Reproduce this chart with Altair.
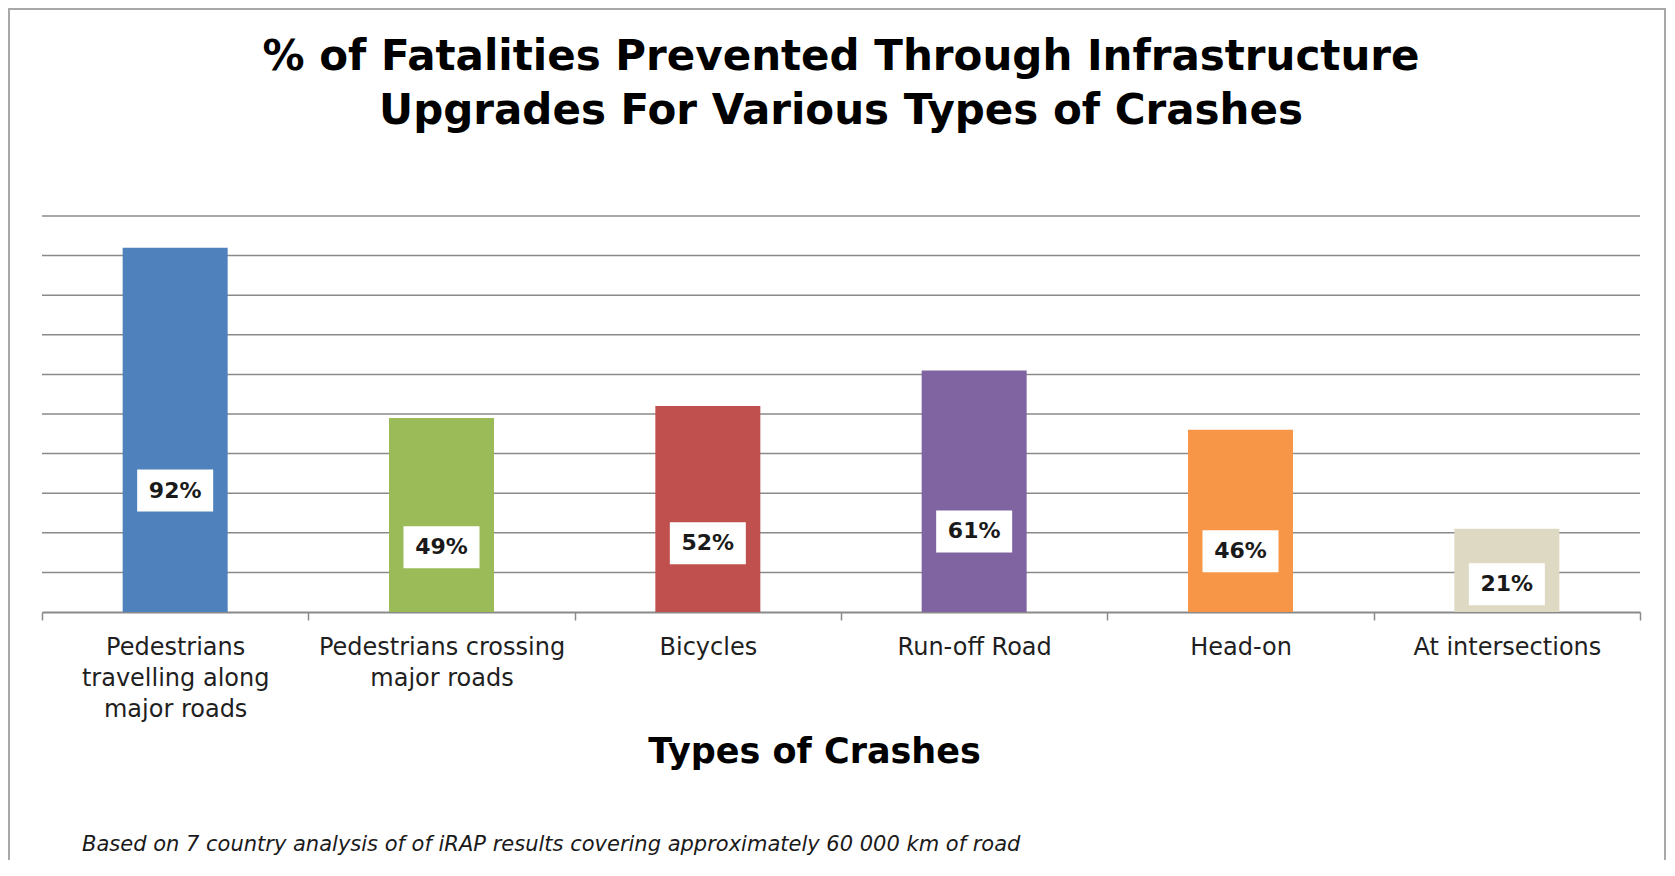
import altair as alt
import pandas as pd

categories = [
    "Pedestrians travelling along major roads",
    "Pedestrians crossing major roads",
    "Bicycles",
    "Run-off Road",
    "Head-on",
    "At intersections",
]
values = [92, 49, 52, 61, 46, 21]
value_labels = ["92%", "49%", "52%", "61%", "46%", "21%"]
label_lines = [
    ["Pedestrians", "travelling along", "major roads"],
    ["Pedestrians crossing", "major roads"],
    ["Bicycles"],
    ["Run-off Road"],
    ["Head-on"],
    ["At intersections"],
]
colors = ["#4F81BD", "#9BBB59", "#C0504D", "#8064A2", "#F79646", "#DDD9C3"]
y_grid = [10, 20, 30, 40, 50, 60, 70, 80, 90, 100]

title_line1 = "% of Fatalities Prevented Through Infrastructure"
title_line2 = "Upgrades For Various Types of Crashes"
x_title = "Types of Crashes"
footnote = ("Based on 7 country analysis of  of iRAP results covering  "
            "approximately 60 000 km of road")

df = pd.DataFrame({"cat": categories, "value": values, "label": value_labels})
grid_df = pd.DataFrame({"g": y_grid})

# multi-line axis labels
expr = "datum.label"
for cat, lines in reversed(list(zip(categories, label_lines))):
    arr = "[" + ",".join("'" + l + "'" for l in lines) + "]"
    expr = f"datum.value == '{cat}' ? {arr} : ({expr})"

W, H = 1598, 396
GRID = "#8a8a8a"

xscale = alt.Scale(domain=categories, paddingInner=0, paddingOuter=0)
xaxis = alt.Axis(
    labelExpr=expr, labelAngle=0, labelFont="DejaVu Sans", labelFontSize=24,
    labelColor="#1f1f1f", labelLineHeight=31, labelPadding=15, labelLimit=400,
    labelOverlap=False, tickSize=8, tickColor=GRID, tickWidth=1.5,
    domainColor=GRID, domainWidth=2, tickBand="extent", grid=False,
    title=x_title, titleFont="DejaVu Sans", titleFontSize=35,
    titleFontWeight="bold", titleColor="#000000", titleX=772, titleY=150,
    titleBaseline="alphabetic", titleAlign="center",
)
yscale = alt.Scale(domain=[0, 100], nice=False)

grid = alt.Chart(grid_df).mark_rule(color=GRID, strokeWidth=1.5).encode(
    y=alt.Y("g:Q", scale=yscale, axis=None)
)

base = alt.Chart(df)

bars = base.mark_bar(width=105).encode(
    x=alt.X("cat:N", scale=xscale, axis=xaxis, sort=categories),
    y=alt.Y("value:Q", scale=yscale, axis=None),
    color=alt.Color("cat:N", scale=alt.Scale(domain=categories, range=colors), legend=None),
)

lab = base.transform_calculate(label_y="datum.value / 3")

boxes = lab.mark_point(
    shape="M-1,-0.553L1,-0.553L1,0.553L-1,0.553Z", filled=True, fill="white",
    opacity=1, size=76 * 76, strokeWidth=0,
).encode(
    x=alt.X("cat:N", scale=xscale, sort=categories),
    y=alt.Y("label_y:Q", scale=yscale),
)

texts = lab.mark_text(
    font="DejaVu Sans", fontSize=22, fontWeight="bold", color="#1a1a1a",
    baseline="middle", align="center",
).encode(
    x=alt.X("cat:N", scale=xscale, sort=categories),
    y=alt.Y("label_y:Q", scale=yscale),
    text="label:N",
)

one = alt.Data(values=[{"k": 1}])

border = alt.Chart(one).mark_rect(
    fillOpacity=0, stroke="#a8a8a8", strokeWidth=2
).encode(
    x=alt.value(-33), x2=alt.value(1623), y=alt.value(-207), y2=alt.value(720)
)

title_style = dict(font="DejaVu Sans", fontSize=42, fontWeight="bold",
                   color="#000000", align="center", baseline="alphabetic")
t1 = alt.Chart(one).mark_text(**title_style).encode(
    x=alt.value(W / 2), y=alt.value(-146), text=alt.value(title_line1))
t2 = alt.Chart(one).mark_text(**title_style).encode(
    x=alt.value(W / 2), y=alt.value(-92), text=alt.value(title_line2))

foot = alt.Chart(one).mark_text(
    align="left", baseline="alphabetic", font="DejaVu Sans",
    fontStyle="italic", fontSize=21, color="#1a1a1a",
).encode(x=alt.value(40), y=alt.value(635), text=alt.value(footnote))

chart = alt.layer(border, grid, bars, boxes, texts, t1, t2, foot).properties(
    width=W, height=H,
    autosize=alt.AutoSizeParams(type="none"),
    padding={"left": 34, "top": 208, "right": 26, "bottom": 248},
    background="white",
).configure_view(stroke=None)

chart.save("out.html", embed_options={"renderer": "svg", "actions": False})
